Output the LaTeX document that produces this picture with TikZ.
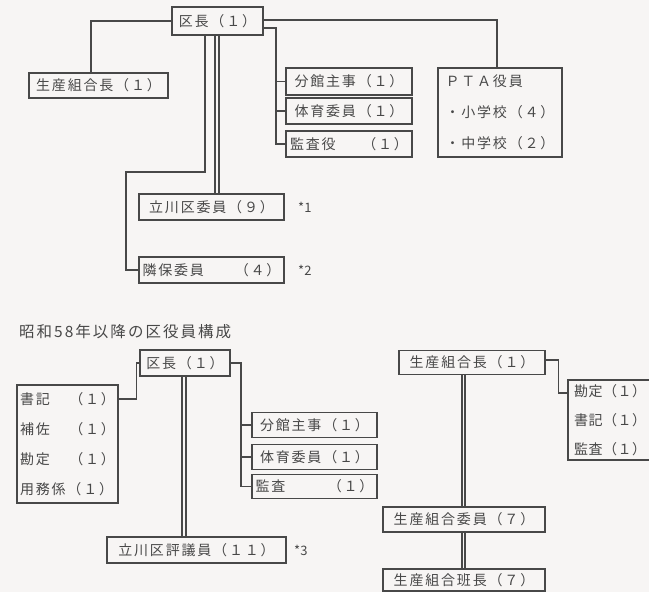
\documentclass[tikz,border=0pt]{standalone}
\usepackage{fontspec}
\newfontfamily\jp[LetterSpace=13]{Noto Sans CJK JP}
\newfontfamily\jpt[LetterSpace=4]{Noto Sans CJK JP}
\newfontfamily\jpn{Noto Sans CJK JP}
\usetikzlibrary{calc}
\definecolor{ink}{RGB}{72,72,72}
\definecolor{paper}{RGB}{247,245,244}
\begin{document}
\begin{tikzpicture}[x=1pt,y=-1pt,
  bx/.style={draw=ink, line width=1.2pt, inner sep=0pt, text=ink, font=\jp\fontsize{14}{16}\selectfont},
  ln/.style={draw=ink, line width=1.1pt},
  lab/.style={text=ink, inner sep=0pt, font=\jpn\fontsize{13}{14}\selectfont}]
\fill[paper] (0,0) rectangle (649,592);
\useasboundingbox (0,0) rectangle (649,592);

% ---------- upper chart ----------
\node[bx, minimum width=91pt, minimum height=28pt] (kuA) at (217.5,21) {区長（１）};
\node[bx, minimum width=139pt, minimum height=25pt] (seA) at (98.5,85.5) {生産組合長（１）};
\node[bx, minimum width=126pt, minimum height=27pt] (buA) at (349,81.5) {分館主事（１）};
\node[bx, minimum width=126pt, minimum height=26pt] (taA) at (349,111) {体育委員（１）};
\node[bx, minimum width=126pt, minimum height=26pt] (kaA) at (349,144) {\makebox[118pt][l]{監査役\hfill（１）}};
\node[bx, minimum width=124pt, minimum height=89pt, align=left, font=\jp\fontsize{14}{31}\selectfont] (pta) at (500,112.5) {ＰＴＡ役員\\・小学校（４）\\・中学校（２）};
\node[bx, minimum width=145pt, minimum height=26pt] (tcA) at (211.5,207) {立川区委員（９）};
\node[bx, minimum width=145pt, minimum height=26pt] (riA) at (211.5,270) {\makebox[138pt][l]{隣保委員\hfill（４）}};
\node[lab, anchor=west] (n1) at (298,207) {*1};
\node[lab, anchor=west] (n2) at (298,270) {*2};

\coordinate (brA) at (276,0);
\coordinate (elA) at (126,172);
\draw[ln] ([yshift=1pt]kuA.east) -| ([xshift=-3pt]pta.north);
\draw[ln] (kuA.west) -| ([xshift=-7.5pt]seA.north);
\draw[ln] ([yshift=-7pt]kuA.east) -| (brA |- kaA.west) -- (kaA.west);
\draw[ln] (brA |- buA.west) -- (buA.west);
\draw[ln] (brA |- taA.west) -- (taA.west);
\draw[ln] ([xshift=-12.5pt]kuA.south) |- (elA) |- (riA.west);
\draw[ln] ([xshift=-2.5pt]kuA.south) -- ([xshift=-2.5pt]kuA.south |- tcA.north);
\draw[ln] ([xshift=1.5pt]kuA.south) -- ([xshift=1.5pt]kuA.south |- tcA.north);

% ---------- lower chart ----------
\node[lab, anchor=west, font=\jp\fontsize{15.5}{17}\selectfont] (title) at (19,332) {昭和58年以降の区役員構成};
\node[bx, minimum width=90pt, minimum height=26pt] (kuB) at (185,363) {区長（１）};
\node[bx, minimum width=101pt, minimum height=118pt, align=left, font=\jp\fontsize{14}{30}\selectfont] (lfB) at (67.5,444)
  {\makebox[95pt][l]{書記\hfill（１）}\\\makebox[95pt][l]{補佐\hfill（１）}\\\makebox[95pt][l]{勘定\hfill（１）}\\\makebox[95pt][l]{用務係（１）}};
\node[bx, minimum width=125pt, minimum height=25pt] (buB) at (314.5,425) {分館主事（１）};
\node[bx, minimum width=125pt, minimum height=25pt] (taB) at (314.5,457) {体育委員（１）};
\node[bx, minimum width=125pt, minimum height=24pt] (kaB) at (314.5,486.5) {\makebox[118pt][l]{監査\hfill（１）}};
\node[bx, minimum width=179pt, minimum height=26pt] (hyB) at (196.5,550) {立川区評議員（１１）};
\node[lab, anchor=west] (n3) at (294,550) {*3};

\node[bx, minimum width=146pt, minimum height=24pt] (seB) at (472,362.5) {生産組合長（１）};
\node[bx, minimum width=92pt, minimum height=80pt, align=left, font=\jpt\fontsize{14}{29}\selectfont] (rtB) at (614,420) {\makebox[80pt][l]{勘定（１）}\\\makebox[80pt][l]{書記（１）}\\\makebox[80pt][l]{監査（１）}};
\node[bx, minimum width=162pt, minimum height=25pt] (siB) at (464,519.5) {生産組合委員（７）};
\node[bx, minimum width=162pt, minimum height=22pt] (hcB) at (464,580) {生産組合班長（７）};

\coordinate (brB) at (241,0);
\draw[ln] (kuB.west) -- ++(-3,0) |- ([yshift=45pt]lfB.east);
\draw[ln] (kuB.east) -| (brB |- kaB.west) -- (kaB.west);
\draw[ln] (brB |- buB.west) -- (buB.west);
\draw[ln] (brB |- taB.west) -- (taB.west);
\draw[ln] ([xshift=-3pt]kuB.south) -- ([xshift=-3pt]kuB.south |- hyB.north);
\draw[ln] ([xshift=1pt]kuB.south) -- ([xshift=1pt]kuB.south |- hyB.north);

\draw[ln] ([yshift=2.5pt]seB.east) -- ++(13,0) |- ([yshift=27pt]rtB.west);
\draw[ln] ([xshift=-10pt]seB.south) -- ([xshift=-10pt]seB.south |- siB.north);
\draw[ln] ([xshift=-7pt]seB.south) -- ([xshift=-7pt]seB.south |- siB.north);
\draw[ln] ([xshift=-10pt]seB.south |- siB.south) -- ([xshift=-10pt]seB.south |- hcB.north);
\draw[ln] ([xshift=-7pt]seB.south |- siB.south) -- ([xshift=-7pt]seB.south |- hcB.north);
\end{tikzpicture}
\end{document}
